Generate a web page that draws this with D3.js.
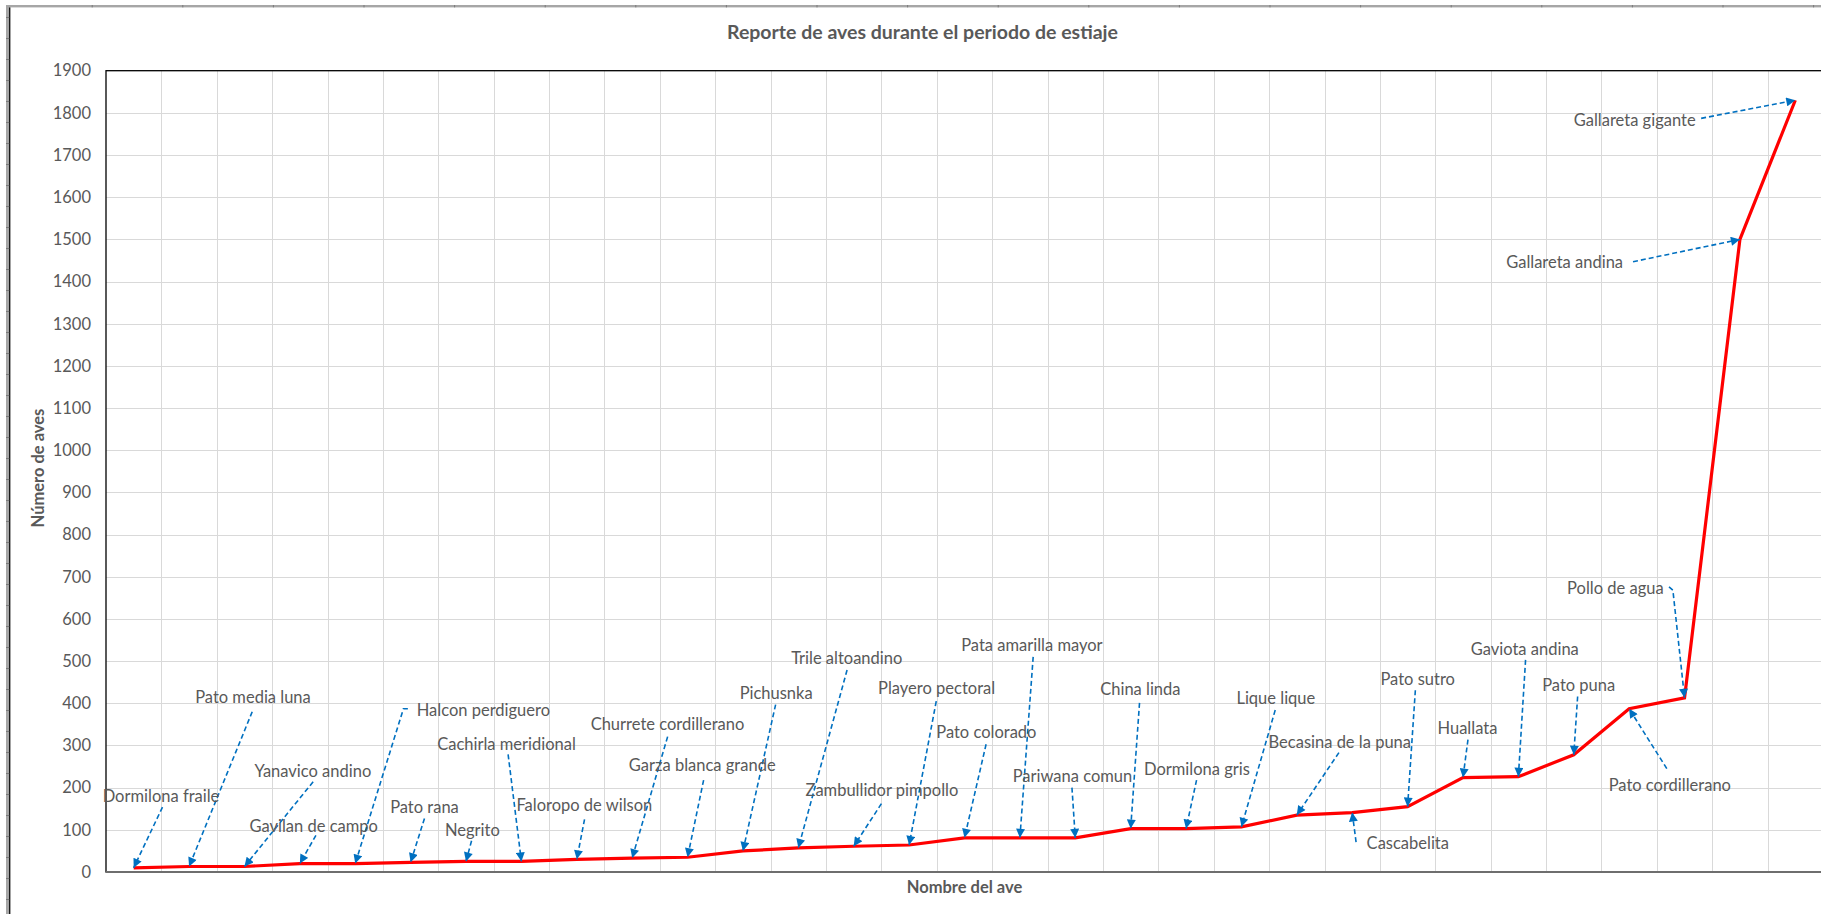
<!DOCTYPE html>
<html>
<head>
<meta charset="utf-8">
<script src="https://cdn.jsdelivr.net/npm/d3@7"></script>
<style>
  body { margin: 0; background: #fff; }
  svg { display: block; }
  text { font-family: Lato, "Open Sans", sans-serif; fill: #595959; }
</style>
</head>
<body>
<svg id="chart" width="1821" height="914"></svg>
<script>
// Birds counted during the dry season, sorted by count
const birds = [
  "Dormilona fraile", "Pato media luna", "Yanavico andino", "Gavilan de campo",
  "Halcon perdiguero", "Pato rana", "Negrito", "Cachirla meridional",
  "Faloropo de wilson", "Churrete cordillerano", "Garza blanca grande", "Pichusnka",
  "Trile altoandino", "Zambullidor pimpollo", "Playero pectoral", "Pato colorado",
  "Pata amarilla mayor", "Pariwana comun", "China linda", "Dormilona gris",
  "Lique lique", "Becasina de la puna", "Cascabelita", "Pato sutro",
  "Huallata", "Gaviota andina", "Pato puna", "Pato cordillerano",
  "Pollo de agua", "Gallareta andina", "Gallareta gigante"
];
const counts = [
  10, 13, 13, 20, 20, 23, 25, 25, 30, 33, 35, 50, 57, 61, 64, 81,
  81, 81, 103, 103, 107, 135, 141, 155, 224, 226, 278, 387, 413, 1500, 1830
];
const yTicks = d3.range(0, 1901, 100);

// Callout placement in data space: [category index, count] of the label's left-middle
const calloutText = [
  [-0.56, 180], [1.11, 415], [2.18, 239], [2.09, 110], [5.11, 384], [4.63, 153],
  [5.62, 99], [5.48, 303], [6.91, 158], [8.25, 351], [8.94, 253], [10.94, 425],
  [11.87, 508], [12.13, 194], [13.44, 437], [14.49, 332], [14.94, 538], [15.87, 228],
  [17.45, 435], [18.24, 245], [19.91, 412], [20.49, 308], [22.26, 69], [22.51, 457],
  [23.54, 341], [24.14, 529], [25.43, 443], [26.63, 206], [25.88, 673], [24.78, 1447],
  [26.0, 1784]
];
// Connector start (and optional bend) for each callout, ending on the bird's point
const calloutPath = [
  [[0.52, 154]], [[2.14, 380]], [[3.24, 214]], [[3.29, 87]], [[4.95, 387], [4.87, 387]], [[5.25, 127]],
  [[6.1, 74]], [[6.76, 279]], [[8.14, 125]], [[9.64, 321]], [[10.29, 218]], [[11.59, 397]],
  [[12.88, 479]], [[13.5, 162]], [[14.49, 405]], [[15.39, 303]], [[16.24, 510]], [[16.94, 200]],
  [[18.16, 401]], [[19.19, 218]], [[20.61, 384]], [[21.76, 283]], [[22.07, 71]], [[23.14, 431]],
  [[24.09, 314]], [[25.13, 503]], [[26.07, 416]], [[27.68, 245]], [[27.72, 676], [27.79, 668]], [[27.07, 1447]],
  [[28.3, 1787]]
];

const W = 1821, H = 914;
const plot = { left: 106, right: 1823, top: 70.7, bottom: 872 };

const svg = d3.select("#chart");

// Frame of the chart object
const frame = svg.append("g");
frame.append("rect").attr("x", 6).attr("y", 5).attr("width", W - 6).attr("height", 2.4).attr("fill", "#a6a6a6");
frame.append("rect").attr("x", 6).attr("y", 5).attr("width", 3.2).attr("height", H - 5).attr("fill", "#a6a6a6");
frame.append("rect").attr("x", 9).attr("y", 7.4).attr("width", 1.4).attr("height", H - 7).attr("fill", "#1a1a1a");
frame.selectAll("rect.tk").data(d3.range(17, H, 21)).join("rect")
  .attr("x", 6).attr("y", d => d).attr("width", 3.2).attr("height", 1).attr("fill", "#7a7a7a");
frame.selectAll("rect.tt").data(d3.range(91.7, W, 90.6)).join("rect")
  .attr("x", d => d).attr("y", 5).attr("width", 1).attr("height", 2.4).attr("fill", "#7a7a7a");

// Scales
const x = d3.scalePoint().domain(birds).range([plot.left, plot.right]).padding(0.5);
const xi = d3.scaleLinear().domain([-0.5, birds.length - 0.5]).range([plot.left, plot.right]);
const y = d3.scaleLinear().domain([0, 1900]).range([plot.bottom, plot.top]);

// Gridlines
const grid = svg.append("g").attr("stroke", "#d9d9d9").attr("stroke-width", 1);
grid.selectAll("line.h").data(yTicks.filter(v => v > 0 && v < 1900)).join("line")
  .attr("x1", plot.left).attr("x2", plot.right)
  .attr("y1", d => Math.round(y(d)) + 0.5).attr("y2", d => Math.round(y(d)) + 0.5);
grid.selectAll("line.v").data(d3.range(1, birds.length)).join("line")
  .attr("x1", d => Math.round(xi(d - 0.5)) + 0.5).attr("x2", d => Math.round(xi(d - 0.5)) + 0.5)
  .attr("y1", plot.top).attr("y2", plot.bottom);

// Plot area border
svg.append("rect")
  .attr("x", plot.left).attr("y", plot.top)
  .attr("width", plot.right - plot.left).attr("height", plot.bottom - plot.top)
  .attr("fill", "none").attr("stroke", "#000").attr("stroke-width", 1.3);

// Y axis
const yAxis = svg.append("g")
  .attr("transform", `translate(${plot.left},0)`)
  .call(d3.axisLeft(y).tickValues(yTicks).tickSize(0).tickPadding(15).tickFormat(d3.format("d")));
yAxis.select(".domain").remove();
yAxis.selectAll("text").attr("font-size", 16.5).attr("fill", "#595959")
  .style("font-family", "Lato, 'Open Sans', sans-serif");

// Category axis line (labels are carried by the callouts)
svg.append("line")
  .attr("x1", plot.left).attr("x2", plot.right)
  .attr("y1", plot.bottom).attr("y2", plot.bottom)
  .attr("stroke", "#6e6e6e").attr("stroke-width", 2.2);

// Series line
svg.append("path")
  .datum(counts)
  .attr("fill", "none").attr("stroke", "#ff0000").attr("stroke-width", 3.2)
  .attr("stroke-linejoin", "miter")
  .attr("d", d3.line().x((d, i) => x(birds[i])).y(d => y(d)));

// Callout arrows
const defs = svg.append("defs");
defs.append("marker")
  .attr("id", "arrow").attr("markerUnits", "userSpaceOnUse")
  .attr("viewBox", "0 0 10 10").attr("refX", 10).attr("refY", 5)
  .attr("markerWidth", 10).attr("markerHeight", 9).attr("orient", "auto")
  .append("path").attr("d", "M0,0 L10,5 L0,10 Z").attr("fill", "#0070c0");

const callouts = svg.append("g");
callouts.selectAll("path").data(birds).join("path")
  .attr("fill", "none").attr("stroke", "#0070c0").attr("stroke-width", 1.6)
  .attr("stroke-dasharray", "5 3")
  .attr("marker-end", "url(#arrow)")
  .attr("d", (b, i) => {
    const pts = calloutPath[i].map(([ci, v]) => [xi(ci), y(v)]);
    pts.push([x(b), y(counts[i])]);
    return d3.line()(pts);
  });

callouts.selectAll("text").data(birds).join("text")
  .attr("x", (b, i) => xi(calloutText[i][0]))
  .attr("y", (b, i) => y(calloutText[i][1]))
  .attr("dominant-baseline", "central")
  .attr("font-size", 16.5)
  .text(b => b);

// Titles
svg.append("text")
  .attr("x", (plot.left + plot.right) / 2 - 42).attr("y", 31)
  .attr("text-anchor", "middle").attr("dominant-baseline", "central")
  .attr("font-size", 19.5).attr("font-weight", 700)
  .text("Reporte de aves durante el periodo de estiaje");

svg.append("text")
  .attr("x", (plot.left + plot.right) / 2).attr("y", 887)
  .attr("text-anchor", "middle").attr("dominant-baseline", "central")
  .attr("font-size", 16.5).attr("font-weight", 700)
  .text("Nombre del ave");

svg.append("text")
  .attr("transform", `translate(38,468) rotate(-90)`)
  .attr("text-anchor", "middle").attr("dominant-baseline", "central")
  .attr("font-size", 16.5).attr("font-weight", 700)
  .text("Número de aves");
</script>
</body>
</html>
